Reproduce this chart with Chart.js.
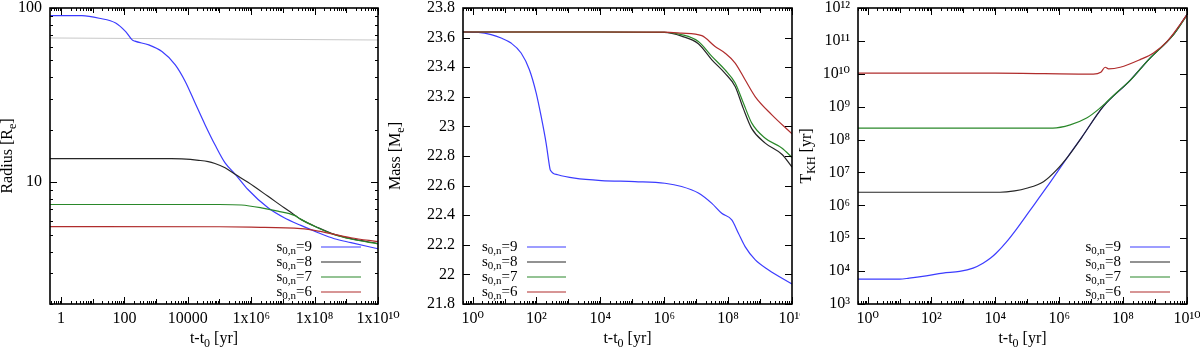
<!DOCTYPE html>
<html>
<head>
<meta charset="utf-8">
<script src="https://cdn.jsdelivr.net/npm/chart.js@4.4.1/dist/chart.umd.min.js"></script>
<style>
  html, body { margin: 0; padding: 0; background: #fff; }
  #wrap { position: relative; width: 1200px; height: 350px; overflow: hidden; }
  #wrap canvas { position: absolute; top: 0; }
</style>
</head>
<body>
<div id="wrap">
  <canvas id="radiusChart" width="405" height="350" style="left:0"></canvas>
  <canvas id="massChart" width="415" height="350" style="left:385px"></canvas>
  <canvas id="tkhChart" width="404" height="350" style="left:796px"></canvas>
</div>
<script>
// ---- data ----
const seriesNames = ['9', '8', '7', '6'];
const seriesColors = ['#3c3cff', '#262626', '#2a882a', '#b02c2c'];

// radius [R_e] vs t-t0 [yr]
const radT9 = [0.45, 4.6, 16, 53, 110, 176, 214, 588, 1530, 4030, 8300, 1.7e4, 3.5e4, 7.2e4, 1.5e5, 3.2e5, 7.9e5, 3.4e6, 1.1e7, 3.7e7, 1.3e8, 4.2e8, 1.4e9, 1e10];
const radR9 = [90.5, 90.3, 87.3, 82, 73.1, 65.6, 64.5, 61.4, 56.2, 47.2, 37.9, 28.5, 21.4, 16.4, 12.9, 11.07, 9.08, 7.13, 6.25, 5.65, 5.13, 4.74, 4.5, 4.15];
const radT8 = [0.45, 3000, 6500, 2.2e4, 4.4e4, 7.2e4, 1.5e5, 3.2e5, 7.9e5, 3.4e6, 1.1e7, 2e7, 3.7e7, 1.3e8, 4.2e8, 1.4e9, 1e10];
const radR8 = [13.66, 13.66, 13.6, 13.36, 13.14, 12.8, 12.1, 11.07, 9.99, 8.3, 7.13, 6.62, 6.12, 5.48, 5.02, 4.74, 4.45];
const radT7 = [0.45, 1e5, 4.9e5, 2.1e6, 6.9e6, 2.3e7, 3.7e7, 1.3e8, 4.2e8, 1.4e9, 1e10];
const radR7 = [7.45, 7.45, 7.40, 7.13, 6.82, 6.45, 6.12, 5.46, 5.0, 4.72, 4.43];
const radT6 = [0.45, 1e5, 1e6, 3.7e7, 1.3e8, 4.2e8, 1.4e9, 1e10];
const radR6 = [5.56, 5.55, 5.52, 5.41, 5.24, 5.02, 4.8, 4.56];
const rocheT = [0.45, 1e10];
const rocheR = [67.3, 65.5];

// mass [M_e] vs t-t0 [yr]
const massT9 = [0.5, 1.5, 3.8, 7.8, 16, 33, 60, 98, 140, 200, 256, 270, 466, 1560, 1.07e4, 1.2e5, 1.05e6, 3.5e6, 1.17e7, 3.1e7, 6.3e7, 1.3e8, 2.1e8, 3.4e8, 7.1e8, 1.85e9, 1e10];
const massM9 = [23.638, 23.635, 23.62, 23.597, 23.563, 23.496, 23.383, 23.225, 23.067, 22.887, 22.73, 22.706, 22.673, 22.65, 22.634, 22.627, 22.616, 22.594, 22.55, 22.48, 22.413, 22.368, 22.278, 22.188, 22.098, 22.03, 21.935];
const massT8 = [0.5, 1e4, 1e6, 3.5e6, 1.17e7, 3.1e7, 7.9e7, 1.66e8, 3.0e8, 5.5e8, 1.45e9, 4.9e9, 1e10];
const massM8 = [23.638, 23.638, 23.635, 23.61, 23.559, 23.45, 23.36, 23.27, 23.12, 22.985, 22.887, 22.81, 22.725];
const massT7 = [0.5, 1e4, 1e6, 3.5e6, 1.17e7, 3.1e7, 7.9e7, 1.66e8, 3.0e8, 5.5e8, 1.45e9, 4.9e9, 1e10];
const massM7 = [23.638, 23.638, 23.636, 23.62, 23.574, 23.473, 23.383, 23.293, 23.158, 23.022, 22.92, 22.853, 22.79];
const massT6 = [0.5, 1e4, 1e6, 3.5e6, 1.5e7, 3.9e7, 7.9e7, 1.66e8, 3.4e8, 7.1e8, 2.3e9, 1e10];
const massM6 = [23.638, 23.638, 23.637, 23.63, 23.613, 23.54, 23.496, 23.428, 23.315, 23.2, 23.08, 22.95];

// Kelvin-Helmholtz time [yr] vs t-t0 [yr]
const tkhT9 = [0.5, 10, 20, 68, 228, 760, 2000, 4100, 7100, 1.07e4, 2.2e4, 4.6e4, 1.2e5, 4e5, 1.9e6, 5e6, 2.4e7, 1.66e8, 6.3e8, 3.8e9, 1e10];
const tkhV9 = [5.69e3, 5.69e3, 6.1e3, 7.18e3, 8.71e3, 9.77e3, 1.23e4, 1.74e4, 2.5e4, 3.55e4, 7.6e4, 1.9e5, 6.9e5, 3.5e6, 3.1e7, 1.15e8, 1.02e9, 6.3e9, 2.7e10, 1.58e11, 6.3e11];
const tkhT8 = [0.5, 1.4e4, 4e4, 9.5e4, 3.2e5, 8.3e5, 1.9e6, 5e6, 2.4e7, 1.66e8, 6.3e8, 3.8e9, 1e10];
const tkhV8 = [2.5e6, 2.5e6, 2.75e6, 3.3e6, 5.25e6, 1.2e7, 3.1e7, 1.15e8, 1.02e9, 6.3e9, 2.7e10, 1.58e11, 6.3e11];
const tkhT7 = [0.5, 6.3e5, 2.2e6, 7.2e6, 1.9e7, 2.75e7, 6.3e7, 1.66e8, 6.3e8, 3.8e9, 1e10];
const tkhV7 = [2.24e8, 2.24e8, 2.8e8, 4.5e8, 9.1e8, 1.26e9, 2.7e9, 6.3e9, 2.7e10, 1.55e11, 6.0e11];
const tkhT6 = [0.5, 1e4, 1.17e7, 2.0e7, 2.75e7, 3.5e7, 8.1e7, 3.4e8, 8.9e8, 2.35e9, 5.5e9, 1e10];
const tkhV6 = [1.05e10, 1.05e10, 9.8e9, 1.12e10, 1.58e10, 1.41e10, 1.58e10, 2.7e10, 4.3e10, 9.5e10, 2.75e11, 6.3e11];

// tick labels
const radXTicks = [1, 100, 1e4, 1e6, 1e8, 1e10];
const radXLabels = ['1', '100', '10000', '1x10\u2076', '1x10\u2078', '1x10\u00b9\u2070'];
const decXTicks = [1, 1e2, 1e4, 1e6, 1e8, 1e10];
const decXLabels = ['10\u2070', '10\u00b2', '10\u2074', '10\u2076', '10\u2078', '10\u00b9\u2070'];
const radYTicks = [10, 100];
const radYLabels = ['10', '100'];
const massYTicks = [21.8, 22, 22.2, 22.4, 22.6, 22.8, 23, 23.2, 23.4, 23.6, 23.8];
const massYLabels = ['21.8', '22', '22.2', '22.4', '22.6', '22.8', '23', '23.2', '23.4', '23.6', '23.8'];
const tkhYTicks = [1e3, 1e4, 1e5, 1e6, 1e7, 1e8, 1e9, 1e10, 1e11, 1e12];
const tkhYLabels = ['10\u00b3', '10\u2074', '10\u2075', '10\u2076', '10\u2077', '10\u2078', '10\u2079', '10\u00b9\u2070', '10\u00b9\u00b9', '10\u00b9\u00b2'];

// ---- helpers ----
const FONT = '"Liberation Serif", "DejaVu Serif", serif';
const pts = (t, v) => t.map((x, i) => ({ x: x, y: v[i] }));

function series(tArr, vArr) {
  return tArr.map((t, i) => ({
    label: 's\u2080,\u2099=' + seriesNames[i],
    data: pts(t, vArr[i]),
    borderColor: seriesColors[i],
    borderWidth: 1.2,
    pointRadius: 0,
    cubicInterpolationMode: 'monotone',
    fill: false,
    order: 3 - i
  }));
}

// text with subscripts: parts = [{text, sub}]
function drawRich(ctx, parts, x, y, align, size) {
  const big = size + 'px ' + FONT, small = Math.round(size * 0.72) + 'px ' + FONT;
  let w = 0;
  parts.forEach(p => { ctx.font = p.sub ? small : big; w += ctx.measureText(p.text).width; });
  let cx = align === 'right' ? x - w : align === 'center' ? x - w / 2 : x;
  ctx.textAlign = 'left';
  ctx.textBaseline = 'middle';
  parts.forEach(p => {
    ctx.font = p.sub ? small : big;
    ctx.fillText(p.text, cx, p.sub ? y + size * 0.3 : y);
    cx += ctx.measureText(p.text).width;
  });
}

// legend drawn inside the plot, text then a line sample
const sampleLegend = {
  id: 'sampleLegend',
  afterDatasetsDraw(chart, args, opts) {
    const { ctx, chartArea: a } = chart;
    ctx.save();
    ctx.fillStyle = '#000';
    seriesNames.forEach((n, i) => {
      const ds = chart.data.datasets[i];
      const y = a.bottom - 57 + i * 15;
      let x1, x2, tx, align;
      if (opts.side === 'left') {
        tx = a.left + 19; x1 = a.left + 64; x2 = x1 + 39; align = 'left';
      } else {
        x2 = a.right - 17; x1 = x2 - 40; tx = x1 - 9; align = 'right';
      }
      drawRich(ctx, [{ text: 's' }, { text: '0,n', sub: true }, { text: '=' + n }], tx, y, align, 15);
      ctx.strokeStyle = ds.borderColor;
      ctx.lineWidth = 1.2;
      ctx.beginPath(); ctx.moveTo(x1, y); ctx.lineTo(x2, y); ctx.stroke();
    });
    ctx.restore();
  }
};

// axis titles with subscripts
const axisTitles = {
  id: 'axisTitles',
  afterDraw(chart, args, opts) {
    const { ctx, chartArea: a } = chart;
    ctx.save();
    ctx.fillStyle = '#000';
    drawRich(ctx, [{ text: 't-t' }, { text: '0', sub: true }, { text: ' [yr]' }], (a.left + a.right) / 2, 339, 'center', 16);
    ctx.translate(opts.yTitleX, (a.top + a.bottom) / 2);
    ctx.rotate(-Math.PI / 2);
    drawRich(ctx, opts.yTitle, 0, 0, 'center', 16);
    ctx.restore();
  }
};

// gnuplot-like box with inward ticks on all four sides
function logMinors(min, max) {
  const out = [];
  for (let k = Math.floor(Math.log10(min)); k <= Math.ceil(Math.log10(max)); k++) {
    for (let m = 1; m <= 9; m++) {
      const v = m * Math.pow(10, k);
      if (v >= min && v <= max) out.push({ v: v, len: m === 1 ? 5 : 3 });
    }
  }
  return out;
}
const frameTicks = {
  id: 'frameTicks',
  afterDatasetsDraw(chart, args, opts) {
    const { ctx, chartArea: a, scales } = chart;
    const x = scales.x, y = scales.y;
    ctx.save();
    ctx.strokeStyle = '#000';
    ctx.lineWidth = 1;
    ctx.beginPath();
    const xs = logMinors(x.min, x.max).concat(x.ticks.map(t => ({ v: t.value, len: 7 })));
    xs.forEach(t => {
      const px = Math.round(x.getPixelForValue(t.v)) + 0.5;
      ctx.moveTo(px, a.bottom); ctx.lineTo(px, a.bottom - t.len);
      ctx.moveTo(px, a.top); ctx.lineTo(px, a.top + t.len);
    });
    const ys = (opts.yMinor ? logMinors(y.min, y.max) : []).concat(y.ticks.map(t => ({ v: t.value, len: 7 })));
    ys.forEach(t => {
      const py = Math.round(y.getPixelForValue(t.v)) + 0.5;
      ctx.moveTo(a.left, py); ctx.lineTo(a.left + t.len, py);
      ctx.moveTo(a.right, py); ctx.lineTo(a.right - t.len, py);
    });
    ctx.stroke();
    ctx.lineWidth = 1.6;
    ctx.strokeRect(a.left, a.top, a.right - a.left, a.bottom - a.top);
    ctx.restore();
  }
};

function makeChart(id, datasets, cfg) {
  const tickFont = { family: FONT, size: 16 };
  return new Chart(document.getElementById(id), {
    type: 'line',
    data: { datasets: datasets },
    options: {
      responsive: false,
      animation: false,
      layout: { padding: { top: 8, right: cfg.padRight, left: 0, bottom: 0 } },
      plugins: {
        legend: { display: false },
        tooltip: { enabled: false },
        sampleLegend: { side: cfg.legendSide },
        frameTicks: { yMinor: cfg.yMinor },
        axisTitles: { yTitle: cfg.yTitle, yTitleX: cfg.yTitleX }
      },
      scales: {
        x: {
          type: 'logarithmic',
          min: cfg.xMin, max: 1e10,
          grid: { display: false, drawTicks: false },
          border: { display: false },
          afterBuildTicks: s => { s.ticks = cfg.xTicks.map(v => ({ value: v })); },
          afterFit: s => { s.height = 46; s.paddingLeft = 0; s.paddingRight = 0; },
          ticks: {
            autoSkip: false, maxRotation: 0, minRotation: 0, padding: 5,
            color: '#000', font: tickFont,
            callback: (v, i) => cfg.xLabels[i]
          }
        },
        y: {
          type: cfg.yType,
          min: cfg.yMin, max: cfg.yMax,
          grid: { display: false, drawTicks: false },
          border: { display: false },
          afterBuildTicks: s => { s.ticks = cfg.yTicks.map(v => ({ value: v })); },
          afterFit: s => { s.width = cfg.yWidth; s.paddingTop = 0; s.paddingBottom = 0; },
          ticks: {
            autoSkip: false, padding: 8, color: '#000', font: tickFont,
            callback: (v, i) => cfg.yLabels[i]
          }
        }
      }
    },
    plugins: [frameTicks, sampleLegend, axisTitles]
  });
}

// ---- panel 1: radius ----
const radiusSets = series([radT9, radT8, radT7, radT6], [radR9, radR8, radR7, radR6]);
radiusSets.push({
  label: 'roche', data: pts(rocheT, rocheR), borderColor: '#c8c8c8',
  borderWidth: 1, pointRadius: 0, fill: false, order: 9
});
makeChart('radiusChart', radiusSets, {
  xMin: 0.45, xTicks: radXTicks, xLabels: radXLabels,
  yType: 'logarithmic', yMin: 2, yMax: 100, yTicks: radYTicks, yLabels: radYLabels,
  yTitle: [{ text: 'Radius [R' }, { text: 'e', sub: true }, { text: ']' }], yTitleX: 8,
  yWidth: 50, padRight: 27, legendSide: 'right', yMinor: true
});

// ---- panel 2: mass ----
makeChart('massChart', series([massT9, massT8, massT7, massT6], [massM9, massM8, massM7, massM6]), {
  xMin: 0.5, xTicks: decXTicks, xLabels: decXLabels,
  yType: 'linear', yMin: 21.8, yMax: 23.8, yTicks: massYTicks, yLabels: massYLabels,
  yTitle: [{ text: 'Mass [M' }, { text: 'e', sub: true }, { text: ']' }], yTitleX: 11,
  yWidth: 78, padRight: 8, legendSide: 'left', yMinor: false
});

// ---- panel 3: Kelvin-Helmholtz time ----
makeChart('tkhChart', series([tkhT9, tkhT8, tkhT7, tkhT6], [tkhV9, tkhV8, tkhV7, tkhV6]), {
  xMin: 0.5, xTicks: decXTicks, xLabels: decXLabels,
  yType: 'logarithmic', yMin: 1e3, yMax: 1e12, yTicks: tkhYTicks, yLabels: tkhYLabels,
  yTitle: [{ text: 'T' }, { text: 'KH', sub: true }, { text: ' [yr]' }], yTitleX: 11,
  yWidth: 62, padRight: 13, legendSide: 'right', yMinor: false
});
</script>
</body>
</html>
